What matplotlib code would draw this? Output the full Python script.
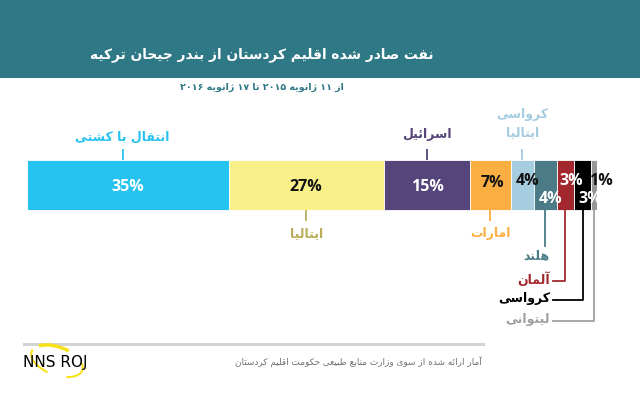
import re
import matplotlib
matplotlib.use("Agg")
import matplotlib.pyplot as plt
from matplotlib.patches import Rectangle, Arc
from matplotlib.transforms import Affine2D

# ---------------- data ----------------
categories = ["انتقال با کشتی", "ایتالیا", "اسرائیل", "امارات", "کرواسی\nایتالیا",
              "هلند", "آلمان", "کرواسی", "لیتوانی"]
values = [35, 27, 15, 7, 4, 4, 3, 3, 1]
value_labels = ["35%", "27%", "15%", "7%", "4%", "4%", "3%", "3%", "1%"]
title = "نفت صادر شده اقلیم کردستان از بندر جیحان ترکیه"
subtitle = "از ۱۱ ژانویه ۲۰۱۵ تا ۱۷ ژانویه ۲۰۱۶"
source = "آمار ارائه شده از سوی وزارت منابع طبیعی حکومت اقلیم کردستان"
logo = "NNS ROJ"

# ---------------- styles ----------------
bar_colors = ["#27C3F0", "#F9F08A", "#55457A", "#FBAE42", "#A6CCE0",
              "#4A7B87", "#A3282E", "#000000", "#959799"]
label_colors = ["#27C3F0", "#B9AF5A", "#55457A", "#FBAE42", "#A6CCE0",
                "#4A7B87", "#A3282E", "#000000", "#A0A0A0"]
value_colors = ["white", "#111111", "white", "#111111", "#111111",
                "white", "white", "white", "#111111"]
HEADER = "#2F7886"

# ---------------- simple Arabic/Persian shaping ----------------
def _r(a, b):
    return (a, b, None, None)

def _d(a):
    return (a, a + 1, a + 2, a + 3)

FORMS = {
    'ا': _r(0xFE8D, 0xFE8E), 'آ': _r(0xFE81, 0xFE82), 'أ': _r(0xFE83, 0xFE84),
    'ؤ': _r(0xFE85, 0xFE86), 'إ': _r(0xFE87, 0xFE88), 'ئ': _d(0xFE89),
    'ب': _d(0xFE8F), 'ة': _r(0xFE93, 0xFE94), 'ت': _d(0xFE95), 'ث': _d(0xFE99),
    'ج': _d(0xFE9D), 'ح': _d(0xFEA1), 'خ': _d(0xFEA5), 'د': _r(0xFEA9, 0xFEAA),
    'ذ': _r(0xFEAB, 0xFEAC), 'ر': _r(0xFEAD, 0xFEAE), 'ز': _r(0xFEAF, 0xFEB0),
    'س': _d(0xFEB1), 'ش': _d(0xFEB5), 'ص': _d(0xFEB9), 'ض': _d(0xFEBD),
    'ط': _d(0xFEC1), 'ظ': _d(0xFEC5), 'ع': _d(0xFEC9), 'غ': _d(0xFECD),
    'ف': _d(0xFED1), 'ق': _d(0xFED5), 'ك': _d(0xFED9), 'ل': _d(0xFEDD),
    'م': _d(0xFEE1), 'ن': _d(0xFEE5), 'ه': _d(0xFEE9), 'و': _r(0xFEED, 0xFEEE),
    'ى': _r(0xFEEF, 0xFEF0), 'ي': _d(0xFEF1),
    'پ': _d(0xFB56), 'چ': _d(0xFB7A), 'ژ': _r(0xFB8A, 0xFB8B), 'ک': _d(0xFB8E),
    'گ': _d(0xFB92), 'ی': _d(0xFBFC),
}

def shape_line(s):
    out = []
    for i, c in enumerate(s):
        if c not in FORMS:
            out.append(c)
            continue
        f = FORMS[c]
        prev = s[i - 1] if i > 0 else None
        nxt = s[i + 1] if i + 1 < len(s) else None
        jp = prev in FORMS and FORMS[prev][2] is not None
        jn = nxt in FORMS and f[2] is not None
        if jp and jn:
            code = f[3]
        elif jp:
            code = f[1]
        elif jn:
            code = f[2]
        else:
            code = f[0]
        out.append(chr(code))
    vis = "".join(out)[::-1]
    vis = re.sub(r'[0-9۰-۹%]+', lambda m: m.group(0)[::-1], vis)
    return vis

def fa(s):
    return "\n".join(shape_line(l) for l in s.split("\n"))

# ---------------- figure ----------------
W, H = 640, 397
fig = plt.figure(figsize=(W / 100, H / 100), dpi=100)
fig.patch.set_facecolor("white")
PX = Affine2D().scale(1 / W, -1 / H).translate(0, 1) + fig.transFigure

AR = ["DejaVu Sans"]
LFS = 9

# header band
fig.add_artist(Rectangle((0, 0), W, 78, transform=PX, color=HEADER, lw=0))
fig.text(262 / W, 1 - 55 / H, fa(title), color="white", fontsize=9.9, fontweight="bold",
         ha="center", va="center", family=AR)
fig.text(262 / W, 1 - 87 / H, fa(subtitle), color=HEADER, fontsize=6.8, fontweight="bold",
         ha="center", va="center", family=AR)

# bar axes: x in data units, y in pixel rows
x0, x1 = 27, 597
ax = fig.add_axes([x0 / W, 1 - 340 / H, (x1 - x0) / W, 240 / H])
total = sum(values)
ax.set_xlim(0, total)
ax.set_ylim(340, 100)
ax.axis("off")

lefts = []
acc = 0
for v in values:
    lefts.append(acc)
    acc += v
ax.barh(185, values, left=lefts, height=50, color=bar_colors, edgecolor="white", linewidth=0.6)

def px2x(px):
    return (px - x0) / (x1 - x0) * total

centers = [l + v / 2 for l, v in zip(lefts, values)]

# value labels (small segments staggered)
val_dx = [0, 0, 0, 0.4, 0.9, 1.0, 1.0, 1.4, 1.2]
val_y = [187, 187, 187, 183, 181, 199, 181, 199, 181]
for c, lab, col, dx, y in zip(centers, value_labels, value_colors, val_dx, val_y):
    ax.text(c + dx, y, lab, ha="center", va="center", color=col, fontsize=11.5,
            fontweight="bold", family=["Open Sans", "DejaVu Sans"])

LW = 1.3
# labels above the bar
for i, ty, dx in ((0, 137, -0.9), (2, 135, 0), (4, 124, 0)):
    xc = centers[i] + dx
    ax.plot([xc, xc], [160, 149], color=bar_colors[i], lw=LW, solid_capstyle="butt")
    ax.text(xc, ty, fa(categories[i]), ha="center", va="center", color=label_colors[i],
            fontsize=LFS, fontweight="bold", family=AR, linespacing=1.5)
# labels below the bar
for i in (1, 3):
    ax.plot([centers[i], centers[i]], [210, 221], color=label_colors[i] if i == 1 else bar_colors[i],
            lw=LW, solid_capstyle="butt")
    ax.text(centers[i], 234, fa(categories[i]), ha="center", va="center", color=label_colors[i],
            fontsize=LFS, fontweight="bold", family=AR)
# teal
ax.plot([centers[5], centers[5]], [210, 246], color=bar_colors[5], lw=LW)
ax.text(px2x(536), 256, fa(categories[5]), ha="center", va="center",
        color=label_colors[5], fontsize=LFS, fontweight="bold", family=AR)
# elbow leaders
xe = px2x(553)
for i, ye in ((6, 281), (7, 300), (8, 321)):
    lc = bar_colors[i] if i != 8 else label_colors[i]
    ax.plot([centers[i], centers[i], xe], [210, ye, ye], color=lc, lw=LW)
    ax.text(px2x(550), ye - 1, fa(categories[i]), ha="right", va="center",
            color=label_colors[i], fontsize=LFS, fontweight="bold", family=AR)

# footer
fig.add_artist(Rectangle((23, 342.5), 462, 3.5, transform=PX, color="#D3D3D3", lw=0))
fig.text(482 / W, 1 - 362 / H, fa(source), color="#707070", fontsize=6.4,
         ha="right", va="center", family=AR)
fig.add_artist(Arc((57, 361), 54, 28, angle=20, theta1=110, theta2=185,
                   transform=PX, color="#F7E21B", lw=1.5))
fig.add_artist(Arc((57, 361), 54, 28, angle=20, theta1=-15, theta2=40,
                   transform=PX, color="#F7E21B", lw=1.5))
fig.add_artist(Arc((57, 361), 54, 28, angle=20, theta1=200, theta2=300,
                   transform=PX, color="#F7E21B", lw=2.5))
fig.text(23 / W, 1 - 363 / H, logo, color="black", fontsize=11,
         ha="left", va="center", family=["Liberation Sans Narrow", "DejaVu Sans"])

fig.savefig("out.png", dpi=100, facecolor="white")
